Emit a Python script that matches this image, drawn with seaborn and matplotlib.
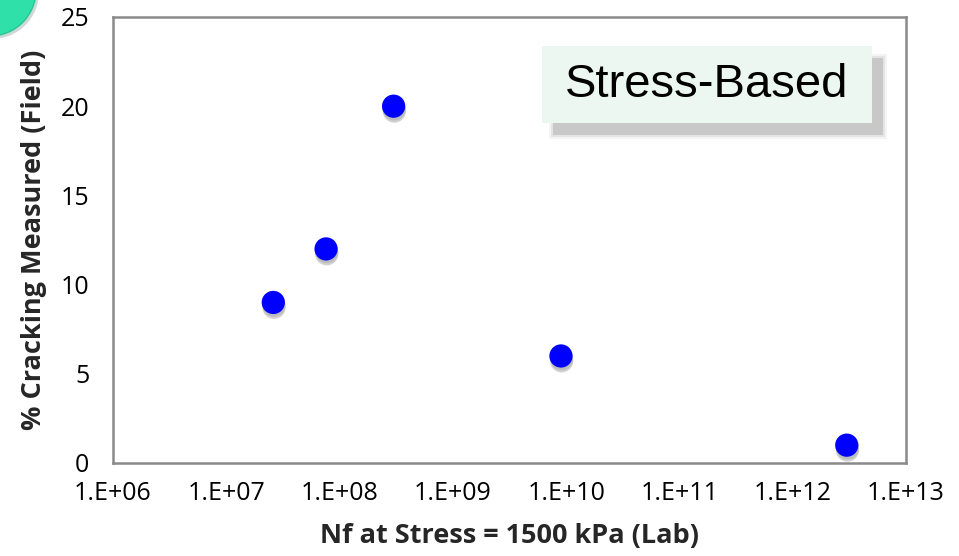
import numpy as np
import pandas as pd
import matplotlib
matplotlib.use("Agg")
import matplotlib.pyplot as plt
import matplotlib.patheffects as pe
from matplotlib.patches import Rectangle, Ellipse
import seaborn as sns

# Data
nf_lab = [2.6e7, 7.6e7, 3.0e8, 9.0e9, 3.0e12]
cracking_field = [9, 12, 20, 6, 1]
xtick_values = [1e6, 1e7, 1e8, 1e9, 1e10, 1e11, 1e12, 1e13]
xtick_labels = ['1.E+06', '1.E+07', '1.E+08', '1.E+09', '1.E+10', '1.E+11', '1.E+12', '1.E+13']
ytick_values = [0, 5, 10, 15, 20, 25]

df = pd.DataFrame({'nf': nf_lab, 'crack': cracking_field})

sns.set_style("white")
plt.rcParams['font.family'] = ['Open Sans', 'DejaVu Sans']

W, H = 959, 556
fig = plt.figure(figsize=(W / 100, H / 100), dpi=100)

# axes box in pixel terms: left 113, right 906, top 17, bottom 463
ax = fig.add_axes([113 / W, (H - 463) / H, (906 - 113) / W, (463 - 17) / H])

sns.scatterplot(data=df, x='nf', y='crack', ax=ax, s=280, color='#0000FF',
                edgecolor='none', linewidth=0, zorder=3)
ax.collections[0].set_path_effects([
    pe.SimplePatchShadow(offset=(0.5, -3.5), shadow_rgbFace='0.5', alpha=0.35),
    pe.SimplePatchShadow(offset=(0.5, -2), shadow_rgbFace='0.5', alpha=0.25),
    pe.Normal()])

ax.set_xscale('log')
ax.set_xlim(1e6, 1e13)
ax.set_ylim(0, 25)
ax.set_xticks(xtick_values)
ax.set_xticklabels(xtick_labels)
ax.minorticks_off()
ax.set_yticks(ytick_values)
ax.set_yticklabels([str(v) for v in ytick_values])

spine_col = '#8a8a8a'
for s in ax.spines.values():
    s.set_color(spine_col)
    s.set_linewidth(1.8)
ax.tick_params(axis='both', direction='in', length=6, width=1.8, color=spine_col,
               labelsize=18, labelcolor='black')
ax.tick_params(axis='x', pad=13)
ax.tick_params(axis='y', pad=17)
ax.tick_params(top=False, right=False)

ax.set_xlabel('Nf at Stress = 1500 kPa (Lab)', fontsize=19.5, fontweight='bold', labelpad=12)
ax.set_ylabel('% Cracking Measured (Field)', fontsize=19.5, fontweight='bold', labelpad=10)

# "Stress-Based" call-out box with a soft drop shadow
for grow, a in [(4, 0.12), (2, 0.2), (0, 0.45)]:
    fig.patches.append(Rectangle(((553 - grow) / W, (H - 135 - grow) / H),
                                 (330 + 2 * grow) / W, (77 + 2 * grow) / H,
                                 transform=fig.transFigure, facecolor='#a8a8a8',
                                 alpha=a, edgecolor='none', zorder=5))
fig.patches.append(Rectangle((542 / W, (H - 123) / H), 330 / W, 77 / H,
                             transform=fig.transFigure, facecolor='#edf7f2',
                             edgecolor='none', zorder=6))
fig.text(707 / W, (H - 85) / H, 'Stress-Based', fontsize=34, family='Liberation Sans',
         ha='center', va='center', color='black', zorder=7)

# teal decoration in the top-left corner
fig.patches.append(Ellipse((-10 / W, (H + 10) / H), 92 / W, 92 / H,
                           transform=fig.transFigure, facecolor='#2fe0a8',
                           edgecolor='#25c795', linewidth=1.0, zorder=4,
                           path_effects=[pe.SimplePatchShadow(offset=(2, -2), alpha=0.2),
                                         pe.Normal()]))

fig.savefig('out.png', dpi=100)
